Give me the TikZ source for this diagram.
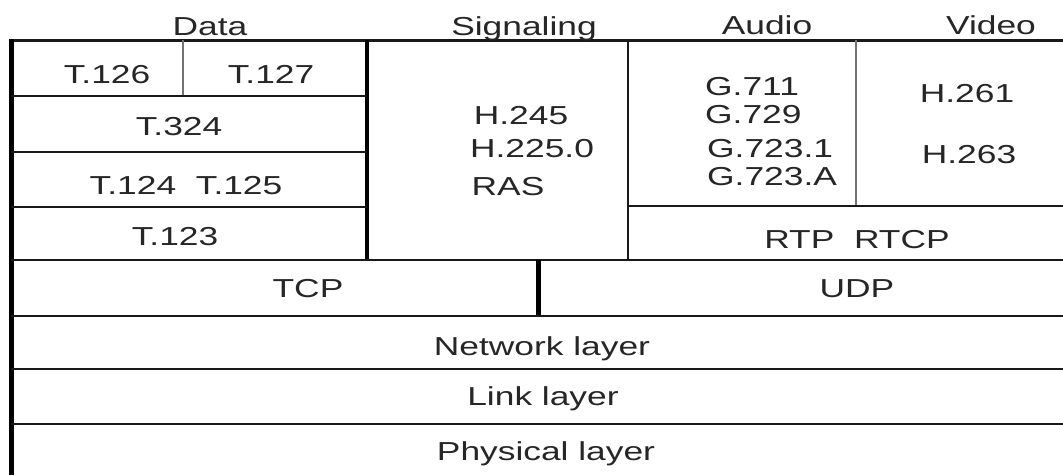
\documentclass[tikz,border=0pt]{standalone}
\usepackage{fontspec}
\setmainfont{Liberation Sans}[FakeStretch=1.36]
\begin{document}
\begin{tikzpicture}[x=1pt,y=-1pt,
  lbl/.style={inner sep=0pt,anchor=base,font=\fontsize{26}{30}\selectfont,text=black!85},
  hthick/.style={line width=3pt,black!90},
  hline/.style={line width=2.7pt,black!90},
  thin/.style={line width=1.3pt,black!55}]
\useasboundingbox[fill=white] (0,0) rectangle (1063,475);
% frame
\draw[line width=3pt,black!90] (9,40) -- (1063,40);
\draw[line width=5pt,black] (11,38.5) -- (11,475);
% data column
\draw[line width=4pt,black] (367,40) -- (367,260);
\draw[thin] (183,40) -- (183,96);
\draw[hline] (11,96) -- (367,96);
\draw[hline] (11,152) -- (367,152);
\draw[hline] (11,207) -- (367,207);
% signaling / audio / video
\draw[hline] (628,40) -- (628,260);
\draw[thin] (856,40) -- (856,206);
\draw[hline] (628,206) -- (1063,206);
% layer lines
\draw[hline] (11,260) -- (1063,260);
\draw[line width=5pt,black] (538,260) -- (538,316);
\draw[hline] (11,316) -- (1063,316);
\draw[hline] (11,369) -- (1063,369);
\draw[hline] (11,424) -- (1063,424);
% headers
\node[lbl] (hdata) at (210,35) {Data};
\node[lbl] (hsig) at (524,35) {Signaling};
\node[lbl] (haud) at (767,34) {Audio};
\node[lbl] (hvid) at (991,34) {Video};
% data
\node[lbl] (t126) at (107,83) {T.126};
\node[lbl] (t127) at (271,83) {T.127};
\node[lbl] (t324) at (179,135) {T.324};
\node[lbl] (t124) at (186,194) {T.124\ \ T.125};
\node[lbl] (t123) at (175,245) {T.123};
% signaling
\node[lbl] (h245) at (521,124) {H.245};
\node[lbl] (h225) at (532,157) {H.225.0};
\node[lbl] (ras) at (508,195) {RAS};
% audio
\node[lbl,anchor=base west] (g711) at (705,95) {G.711};
\node[lbl,anchor=base west] (g729) at (705,123) {G.729};
\node[lbl,anchor=base west] (g7231) at (707,157) {G.723.1};
\node[lbl,anchor=base west] (g723a) at (707,185) {G.723.A};
% video
\node[lbl] (h261) at (967,102) {H.261};
\node[lbl] (h263) at (969,163) {H.263};
\node[lbl] (rtp) at (857,248) {RTP\ \ RTCP};
% transport and below
\node[lbl] (tcp) at (308,297) {TCP};
\node[lbl] (udp) at (857,297) {UDP};
\node[lbl] (net) at (542,355) {Network layer};
\node[lbl] (link) at (543,405) {Link layer};
\node[lbl] (phys) at (546,460) {Physical layer};
\end{tikzpicture}
\end{document}
